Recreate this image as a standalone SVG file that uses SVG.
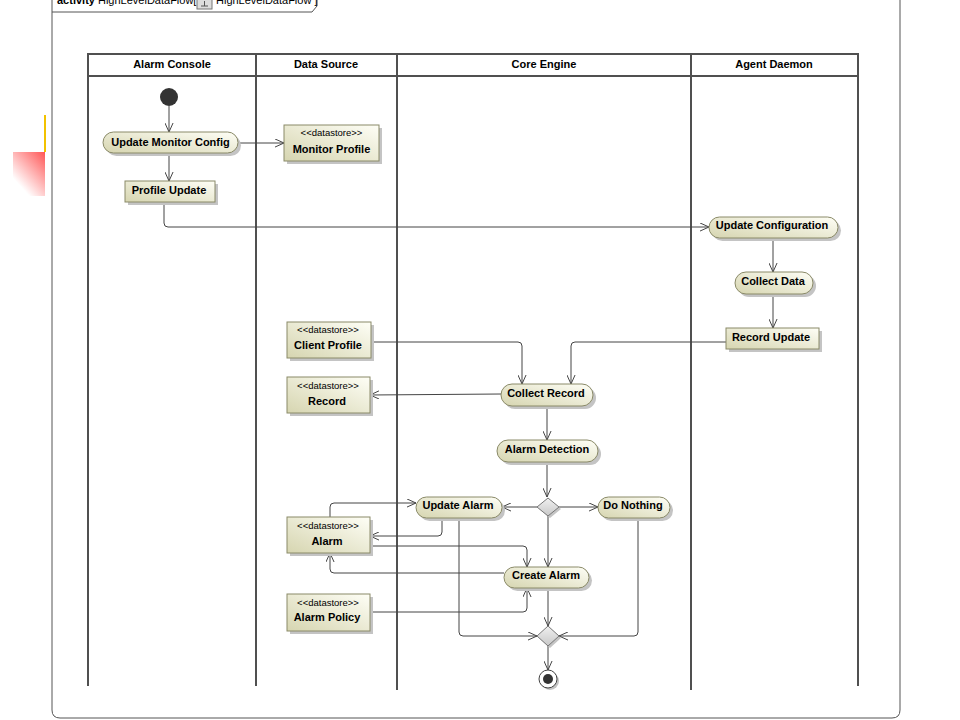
<svg xmlns="http://www.w3.org/2000/svg" width="960" height="720" viewBox="0 0 960 720">
<style>
text{font-family:"Liberation Sans",Arial,sans-serif;fill:#000}
.b{font-weight:bold;font-size:11px}
.st{font-size:9.5px}
.lane{stroke:#505050;stroke-width:2;fill:none}
.act{fill:url(#g);stroke:#8a8a68;stroke-width:1}
.sh{fill:#c4c4c4}
.c{fill:none;stroke:#444;stroke-width:1}
.ar{marker-end:url(#a)}
</style>
<defs>
<linearGradient id="g" x1="1" y1="0" x2="0" y2="1">
<stop offset="0" stop-color="#fefef6"/>
<stop offset="1" stop-color="#d6d5b0"/>
</linearGradient>
<linearGradient id="rg" x1="1" y1="0" x2="0.2" y2="1">
<stop offset="0" stop-color="#ff5656"/>
<stop offset="0.85" stop-color="#ffffff"/>
</linearGradient>
<linearGradient id="dg" x1="0" y1="0" x2="0" y2="1">
<stop offset="0" stop-color="#f0f0f0"/>
<stop offset="1" stop-color="#c8c8c8"/>
</linearGradient>
<marker id="a" viewBox="0 0 10 10" refX="10" refY="5" markerWidth="9" markerHeight="9" markerUnits="userSpaceOnUse" orient="auto">
<path d="M0,0.5 L10,5 L0,9.5" fill="none" stroke="#444" stroke-width="1.1"/>
</marker>
</defs>
<rect width="960" height="720" fill="#fff"/>
<!-- decoration -->
<rect x="13" y="152" width="32" height="44" fill="url(#rg)"/>
<rect x="44" y="115" width="2" height="37" fill="#f2c200"/>
<!-- frame -->
<g id="frame">
<path d="M52,-2 L52,710 Q52,718 60,718 L892,718 Q900,718 900,710 L900,-2" fill="none" stroke="#555" stroke-width="1"/>
<path d="M52,12 L312,12 L317,6 L317,-2" fill="none" stroke="#555" stroke-width="1"/>
<text x="57" y="4" font-size="11px"><tspan font-weight="bold">activity</tspan> HighLevelDataFlow[</text>
<rect x="197" y="-3" width="15" height="12" fill="#ddd" stroke="#777" stroke-width="1"/>
<path d="M201,6 L208,6 M204.5,6 L204.5,1" stroke="#555" stroke-width="1"/>
<text x="216" y="4" font-size="11px">HighLevelDataFlow ]</text>
</g>
<!-- swimlanes -->
<g id="lanes">
<rect x="88" y="54" width="770" height="22" class="lane"/>
<path class="lane" d="M88,76 L88,686 M256,54 L256,686 M397,54 L397,690 M691,54 L691,690 M858,76 L858,686"/>
<text class="b" x="172" y="68" text-anchor="middle">Alarm Console</text>
<text class="b" x="326" y="68" text-anchor="middle">Data Source</text>
<text class="b" x="544" y="68" text-anchor="middle">Core Engine</text>
<text class="b" x="774" y="68" text-anchor="middle">Agent Daemon</text>
</g>
<!-- connectors -->
<g id="connectors">
<path class="c ar" d="M169,106 L169,132"/>
<path class="c ar" d="M238,143 L284,143"/>
<path class="c ar" d="M169,153 L169,181"/>
<path class="c ar" d="M164,202 L164,223 Q164,227 168,227 L709,227"/>
<path class="c ar" d="M773,238 L773,272"/>
<path class="c ar" d="M773,294 L773,328"/>
<path class="c ar" d="M726,342 L575,342 Q571,342 571,346 L571,384"/>
<path class="c ar" d="M371,342 L518,342 Q522,342 522,346 L522,384"/>
<path class="c ar" d="M501,394 L370,395"/>
<path class="c ar" d="M547,406 L547,440"/>
<path class="c ar" d="M547,462 L547,497"/>
<path class="c ar" d="M537,507 L502,507"/>
<path class="c ar" d="M559,507 L598,507"/>
<path class="c ar" d="M548,516 L548,567"/>
<path class="c ar" d="M330,517 L330,507 Q330,503 334,503 L416,503"/>
<path class="c ar" d="M442,518 L442,532 Q442,536 438,536 L370,536"/>
<path class="c ar" d="M370,546 L523,546 Q527,546 527,550 L527,567"/>
<path class="c ar" d="M504,573 L334,573 Q330,573 330,569 L330,553"/>
<path class="c ar" d="M370,612 L523,612 Q527,612 527,608 L527,588"/>
<path class="c ar" d="M548,588 L548,626"/>
<path class="c ar" d="M459,518 L459,632 Q459,636 463,636 L537,636"/>
<path class="c ar" d="M638,518 L638,632 Q638,636 634,636 L559,636"/>
<path class="c ar" d="M548,646 L548,670"/>
</g>
<!-- nodes -->
<g id="initial"><circle cx="169" cy="97" r="9" fill="#333"/></g>
<g id="updateMonitorConfig">
<rect class="sh" x="106" y="135" width="135" height="21" rx="10.5"/>
<rect class="act" x="103" y="132" width="135" height="21" rx="10.5"/>
<text class="b" x="170.5" y="146" text-anchor="middle">Update Monitor Config</text>
</g>
<g id="monitorProfile">
<rect class="sh" x="287" y="128" width="95" height="36"/>
<rect class="act" x="284" y="125" width="95" height="36"/>
<text class="st" x="331.5" y="136" text-anchor="middle">&lt;&lt;datastore&gt;&gt;</text>
<text class="b" x="331.5" y="153" text-anchor="middle">Monitor Profile</text>
</g>
<g id="profileUpdate">
<rect class="sh" x="128" y="184" width="90" height="21"/>
<rect class="act" x="125" y="181" width="90" height="21"/>
<text class="b" x="169" y="194" text-anchor="middle">Profile Update</text>
</g>
<g id="updateConfiguration">
<rect class="sh" x="712" y="220" width="129" height="21" rx="10.5"/>
<rect class="act" x="709" y="217" width="129" height="21" rx="10.5"/>
<text class="b" x="772" y="229" text-anchor="middle">Update Configuration</text>
</g>
<g id="collectData">
<rect class="sh" x="738" y="275" width="78" height="22" rx="11"/>
<rect class="act" x="735" y="272" width="78" height="22" rx="11"/>
<text class="b" x="773" y="285" text-anchor="middle">Collect Data</text>
</g>
<g id="recordUpdate">
<rect class="sh" x="729" y="331" width="93" height="21"/>
<rect class="act" x="726" y="328" width="93" height="21"/>
<text class="b" x="771" y="341" text-anchor="middle">Record Update</text>
</g>
<g id="clientProfile">
<rect class="sh" x="290" y="325" width="84" height="36"/>
<rect class="act" x="287" y="322" width="84" height="36"/>
<text class="st" x="328" y="333" text-anchor="middle">&lt;&lt;datastore&gt;&gt;</text>
<text class="b" x="328" y="349" text-anchor="middle">Client Profile</text>
</g>
<g id="record">
<rect class="sh" x="290" y="380" width="83" height="36"/>
<rect class="act" x="287" y="377" width="83" height="36"/>
<text class="st" x="328" y="389" text-anchor="middle">&lt;&lt;datastore&gt;&gt;</text>
<text class="b" x="327" y="405" text-anchor="middle">Record</text>
</g>
<g id="collectRecord">
<rect class="sh" x="504" y="387" width="92" height="22" rx="11"/>
<rect class="act" x="501" y="384" width="92" height="22" rx="11"/>
<text class="b" x="546" y="397" text-anchor="middle">Collect Record</text>
</g>
<g id="alarmDetection">
<rect class="sh" x="500" y="443" width="101" height="22" rx="11"/>
<rect class="act" x="497" y="440" width="101" height="22" rx="11"/>
<text class="b" x="547" y="453" text-anchor="middle">Alarm Detection</text>
</g>
<g id="decision">
<path d="M539,509 L550,500 L561,509 L550,518 Z" fill="#c4c4c4"/>
<path d="M537,507 L548,498 L559,507 L548,516 Z" fill="url(#dg)" stroke="#777" stroke-width="1"/>
</g>
<g id="updateAlarm">
<rect class="sh" x="419" y="500" width="86" height="21" rx="10.5"/>
<rect class="act" x="416" y="497" width="86" height="21" rx="10.5"/>
<text class="b" x="458" y="509" text-anchor="middle">Update Alarm</text>
</g>
<g id="doNothing">
<rect class="sh" x="601" y="500" width="72" height="21" rx="10.5"/>
<rect class="act" x="598" y="497" width="72" height="21" rx="10.5"/>
<text class="b" x="633" y="509" text-anchor="middle">Do Nothing</text>
</g>
<g id="alarm">
<rect class="sh" x="290" y="520" width="83" height="36"/>
<rect class="act" x="287" y="517" width="83" height="36"/>
<text class="st" x="328" y="529" text-anchor="middle">&lt;&lt;datastore&gt;&gt;</text>
<text class="b" x="327" y="545" text-anchor="middle">Alarm</text>
</g>
<g id="createAlarm">
<rect class="sh" x="507" y="570" width="85" height="21" rx="10.5"/>
<rect class="act" x="504" y="567" width="85" height="21" rx="10.5"/>
<text class="b" x="546" y="579" text-anchor="middle">Create Alarm</text>
</g>
<g id="alarmPolicy">
<rect class="sh" x="290" y="597" width="83" height="37"/>
<rect class="act" x="287" y="594" width="83" height="37"/>
<text class="st" x="328" y="606" text-anchor="middle">&lt;&lt;datastore&gt;&gt;</text>
<text class="b" x="327" y="621" text-anchor="middle">Alarm Policy</text>
</g>
<g id="merge">
<path d="M539,638 L550,628 L561,638 L550,648 Z" fill="#c4c4c4"/>
<path d="M537,636 L548,626 L559,636 L548,646 Z" fill="url(#dg)" stroke="#777" stroke-width="1"/>
</g>
<g id="final">
<circle cx="550" cy="681" r="9" fill="#c4c4c4"/>
<circle cx="548" cy="679" r="9" fill="#fff" stroke="#444" stroke-width="1"/>
<circle cx="548" cy="679" r="5" fill="#333"/>
</g>
</svg>
